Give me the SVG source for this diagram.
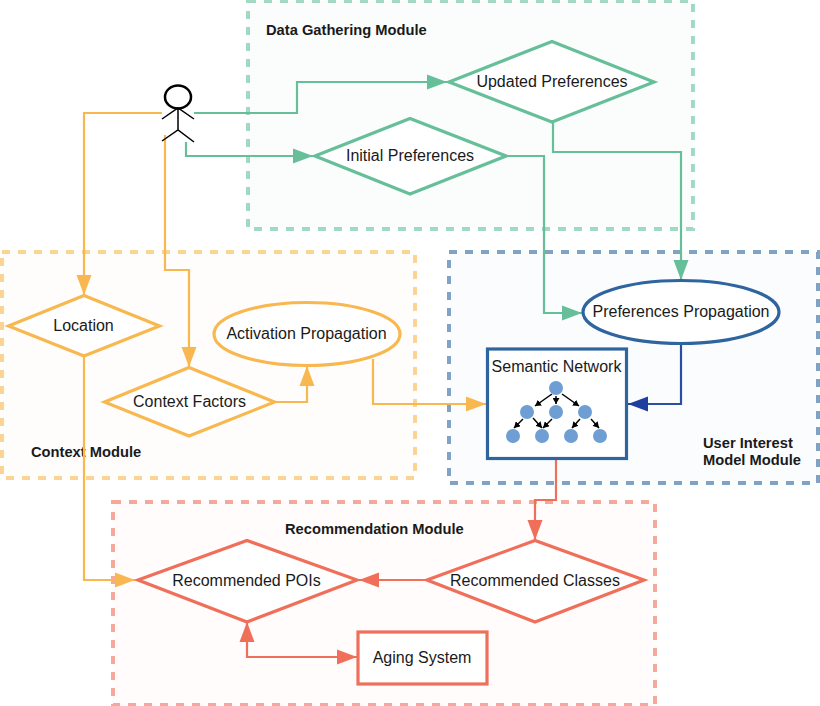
<svg xmlns="http://www.w3.org/2000/svg" width="820" height="706" viewBox="0 0 820 706">
<style>
text{font-family:"Liberation Sans",Arial,sans-serif;fill:#1a1a1a}
.l{font-size:16px;text-anchor:middle}
.t{font-size:14.7px;font-weight:bold}
.m{fill-opacity:.025;stroke-width:4;stroke-dasharray:8 8;stroke-opacity:.6}
.c{fill:none;stroke-width:2.2}
.n{fill:#fff;stroke-width:3.2}
.g{stroke:#67bf9a}.o{stroke:#f9b84f}.b{stroke:#2f659f}.r{stroke:#ef6f5a}
.sn{fill:#6e9ed3}
.sa{stroke:#000;stroke-width:1.5;fill:none;marker-end:url(#s)}
</style>
<defs>
<marker id="ag" markerUnits="userSpaceOnUse" markerWidth="20" markerHeight="16" refX="20" refY="8" orient="auto-start-reverse"><path d="M0 .5L20 8L0 15.500Z" fill="#67bf9a"/></marker>
<marker id="ao" markerUnits="userSpaceOnUse" markerWidth="20" markerHeight="16" refX="20" refY="8" orient="auto-start-reverse"><path d="M0 .5L20 8L0 15.500Z" fill="#f9b84f"/></marker>
<marker id="ab" markerUnits="userSpaceOnUse" markerWidth="20" markerHeight="16" refX="20" refY="8" orient="auto-start-reverse"><path d="M0 .5L20 8L0 15.500Z" fill="#1f3f9e"/></marker>
<marker id="ar" markerUnits="userSpaceOnUse" markerWidth="20" markerHeight="16" refX="20" refY="8" orient="auto-start-reverse"><path d="M0 .5L20 8L0 15.500Z" fill="#ef6f5a"/></marker>
<marker id="s" markerUnits="userSpaceOnUse" markerWidth="7" markerHeight="7" refX="6" refY="3.500" orient="auto"><path d="M0 0L6 3.500L0 7Z" fill="#000"/></marker>
</defs>

<g id="data-gathering-module"><rect x="248" y="1" width="445" height="228" class="m g" fill="#67bf9a"/><text x="266" y="35" class="t">Data Gathering Module</text></g>
<g id="context-module"><rect x="2" y="252" width="413" height="226" class="m o" fill="#f9b84f"/><text x="31" y="457" class="t">Context Module</text></g>
<g id="user-interest-module"><rect x="449" y="252" width="369" height="231" class="m b" fill="#2c7fd0"/><text x="703" y="448" class="t">User Interest</text><text x="703" y="465" class="t">Model Module</text></g>
<g id="recommendation-module"><rect x="113" y="502" width="542" height="203" class="m r" fill="#ef6f5a"/><text x="285" y="534" class="t">Recommendation Module</text></g>

<g id="connectors">
<path class="c g" marker-end="url(#ag)" d="M194 113H297V82H447"/>
<path class="c g" marker-end="url(#ag)" d="M186 142V156H313"/>
<path class="c g" marker-end="url(#ag)" d="M553 122V152H681V280"/>
<path class="c g" marker-end="url(#ag)" d="M508 156H544V313H582"/>
<path class="c o" marker-end="url(#ao)" d="M162 113H84V295"/>
<path class="c o" marker-end="url(#ao)" d="M165 135V270H189V367"/>
<path class="c o" marker-end="url(#ao)" d="M84 356V580H135"/>
<path class="c o" marker-end="url(#ao)" d="M276 402H307V366"/>
<path class="c o" marker-end="url(#ao)" d="M373 359V404H486"/>
<path class="c" stroke="#2a4f9e" marker-end="url(#ab)" d="M681 344V404H628"/>
<path class="c r" marker-end="url(#ar)" d="M556 459V500H535V540"/>
<path class="c r" marker-end="url(#ar)" d="M426 580H359"/>
<path class="c r" marker-start="url(#ar)" marker-end="url(#ar)" d="M247 622V657H357"/>
</g>

<g id="user" fill="none" stroke="#000" stroke-width="1.500"><ellipse cx="178" cy="97" rx="13" ry="11.500" stroke-width="2.500"/><path d="M178 108V130M162 119L178 108L194 119M162 141L178 130L194 142"/></g>
<g id="updated-preferences"><path class="n g" d="M449 82L552 41.500L654 82L552 122Z"/><text x="552" y="87" class="l">Updated Preferences</text></g>
<g id="initial-preferences"><path class="n g" d="M315 156L410 118.500L506 156L410 194Z"/><text x="410" y="161" class="l">Initial Preferences</text></g>
<g id="preferences-propagation"><ellipse cx="681" cy="312" rx="98" ry="31.500" class="n b"/><text x="681" y="317" class="l">Preferences Propagation</text></g>
<g id="location"><path class="n o" d="M8.500 326L84 295.500L159.500 326L84 356Z"/><text x="83.500" y="331" class="l">Location</text></g>
<g id="context-factors"><path class="n o" d="M104.500 402L189 367.500L274.500 402L189 436Z"/><text x="189.500" y="407" class="l">Context Factors</text></g>
<g id="activation-propagation"><ellipse cx="307" cy="334" rx="93" ry="31.500" class="n o"/><text x="306.500" y="339" class="l">Activation Propagation</text></g>
<g id="semantic-network"><rect x="487.500" y="349" width="139" height="109.500" class="n b"/><text x="556.500" y="372" class="l">Semantic Network</text>
<g>
<path class="sa" d="M552 394L535 406"/><path class="sa" d="M556 396V404"/><path class="sa" d="M562 394L579 406"/>
<path class="sa" d="M523 419L514 428"/><path class="sa" d="M533 418L542 428"/><path class="sa" d="M552 419L543 428"/><path class="sa" d="M580 419L572 428"/><path class="sa" d="M591 419L599 428"/>
</g>
<g class="sn"><circle cx="556" cy="388" r="7"/><circle cx="527" cy="412" r="7"/><circle cx="556" cy="412" r="7"/><circle cx="585" cy="412" r="7"/><circle cx="513" cy="436" r="7"/><circle cx="542" cy="436" r="7"/><circle cx="571" cy="436" r="7"/><circle cx="600" cy="436" r="7"/></g></g>
<g id="recommended-classes"><path class="n r" d="M427 580L535 540.500L644 580L535 622Z"/><text x="535" y="586" class="l">Recommended Classes</text></g>
<g id="recommended-pois"><path class="n r" d="M138 580L247 540.500L357 580L247 622Z"/><text x="246.500" y="586" class="l">Recommended POIs</text></g>
<g id="aging-system"><rect x="358" y="632" width="129" height="52" class="n r"/><text x="422" y="663" class="l">Aging System</text></g>
</svg>
